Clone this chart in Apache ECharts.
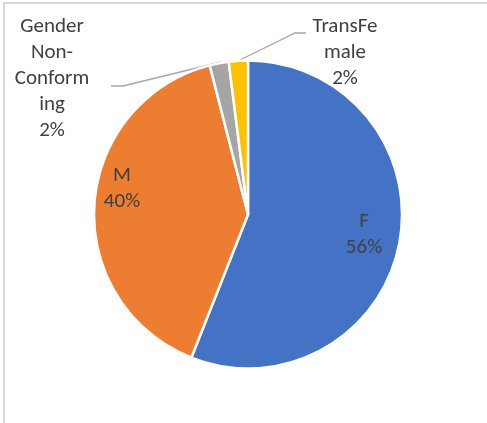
<!DOCTYPE html>
<html>
<head>
<meta charset="utf-8">
<script src="https://cdn.jsdelivr.net/npm/echarts@6/dist/echarts.min.js"></script>
<style>
	html, body { margin: 0; padding: 0; background: #fff; }
	#frame {
		position: absolute; left: 3px; top: 2px; width: 484px; height: 421px;
		border-top: 2px solid #d9d9d9; border-left: 2px solid #d9d9d9;
		box-sizing: border-box;
	}
	#chart-pie-div { position: absolute; left: 0; top: 0; width: 487px; height: 423px; }
</style>
</head>
<body>
<div id="frame"></div>
<div id="chart-pie-div"></div>
<script>
// 类别与数值
var g_categories = ["F", "M", "Gender Non-Conforming", "TransFemale"];
var g_values = [56, 40, 2, 2];
// Excel 式换行后的标签文字
var g_label_names = ["F", "M", "Gender\nNon-\nConform\ning", "TransFe\nmale"];
var g_colors = ["#4472C4", "#ED7D31", "#A5A5A5", "#FFC000"];

// 标签位置（中心点）
var g_label_pos = [
	[364, 235],
	[122, 189],
	[52, 79],
	[345, 53]
];
// 外部标签引导线
var g_leader_lines = [
	[[221, 62], [123, 86], [111, 86]],
	[[240, 60], [295, 33], [306, 33]]
];

var g_chart_pie = echarts.init(document.getElementById("chart-pie-div"));

var g_chart_pie_option = {
	animation: false,
	color: g_colors,
	graphic: g_leader_lines.map(function (pts) {
		return {
			type: "polyline",
			silent: true,
			shape: { points: pts },
			style: { stroke: "#a6a6a6", lineWidth: 1.3, fill: null }
		};
	}),
	series: [
		{
			type: "pie",
			center: [248, 214.5],
			radius: 154,
			startAngle: 90,
			clockwise: true,
			percentPrecision: 0,
			itemStyle: {
				borderColor: "#fff",
				borderWidth: 2.5
			},
			data: g_categories.map(function (c, i) {
				return { name: c, value: g_values[i] };
			}),
			label: {
				show: true,
				position: "inside",
				formatter: function (p) {
					return g_label_names[p.dataIndex] + "\n" + Math.round(p.percent) + "%";
				},
				fontFamily: "Carlito, Lato, sans-serif",
				fontSize: 21,
				lineHeight: 26,
				color: "#404040",
				align: "center"
			},
			labelLine: { show: false },
			labelLayout: function (params) {
				var i = params.dataIndex;
				return {
					x: g_label_pos[i][0],
					y: g_label_pos[i][1],
					align: "center",
					verticalAlign: "middle"
				};
			}
		}
	]
};

g_chart_pie.setOption(g_chart_pie_option);
window.addEventListener("resize", g_chart_pie.resize);
</script>
</body>
</html>
